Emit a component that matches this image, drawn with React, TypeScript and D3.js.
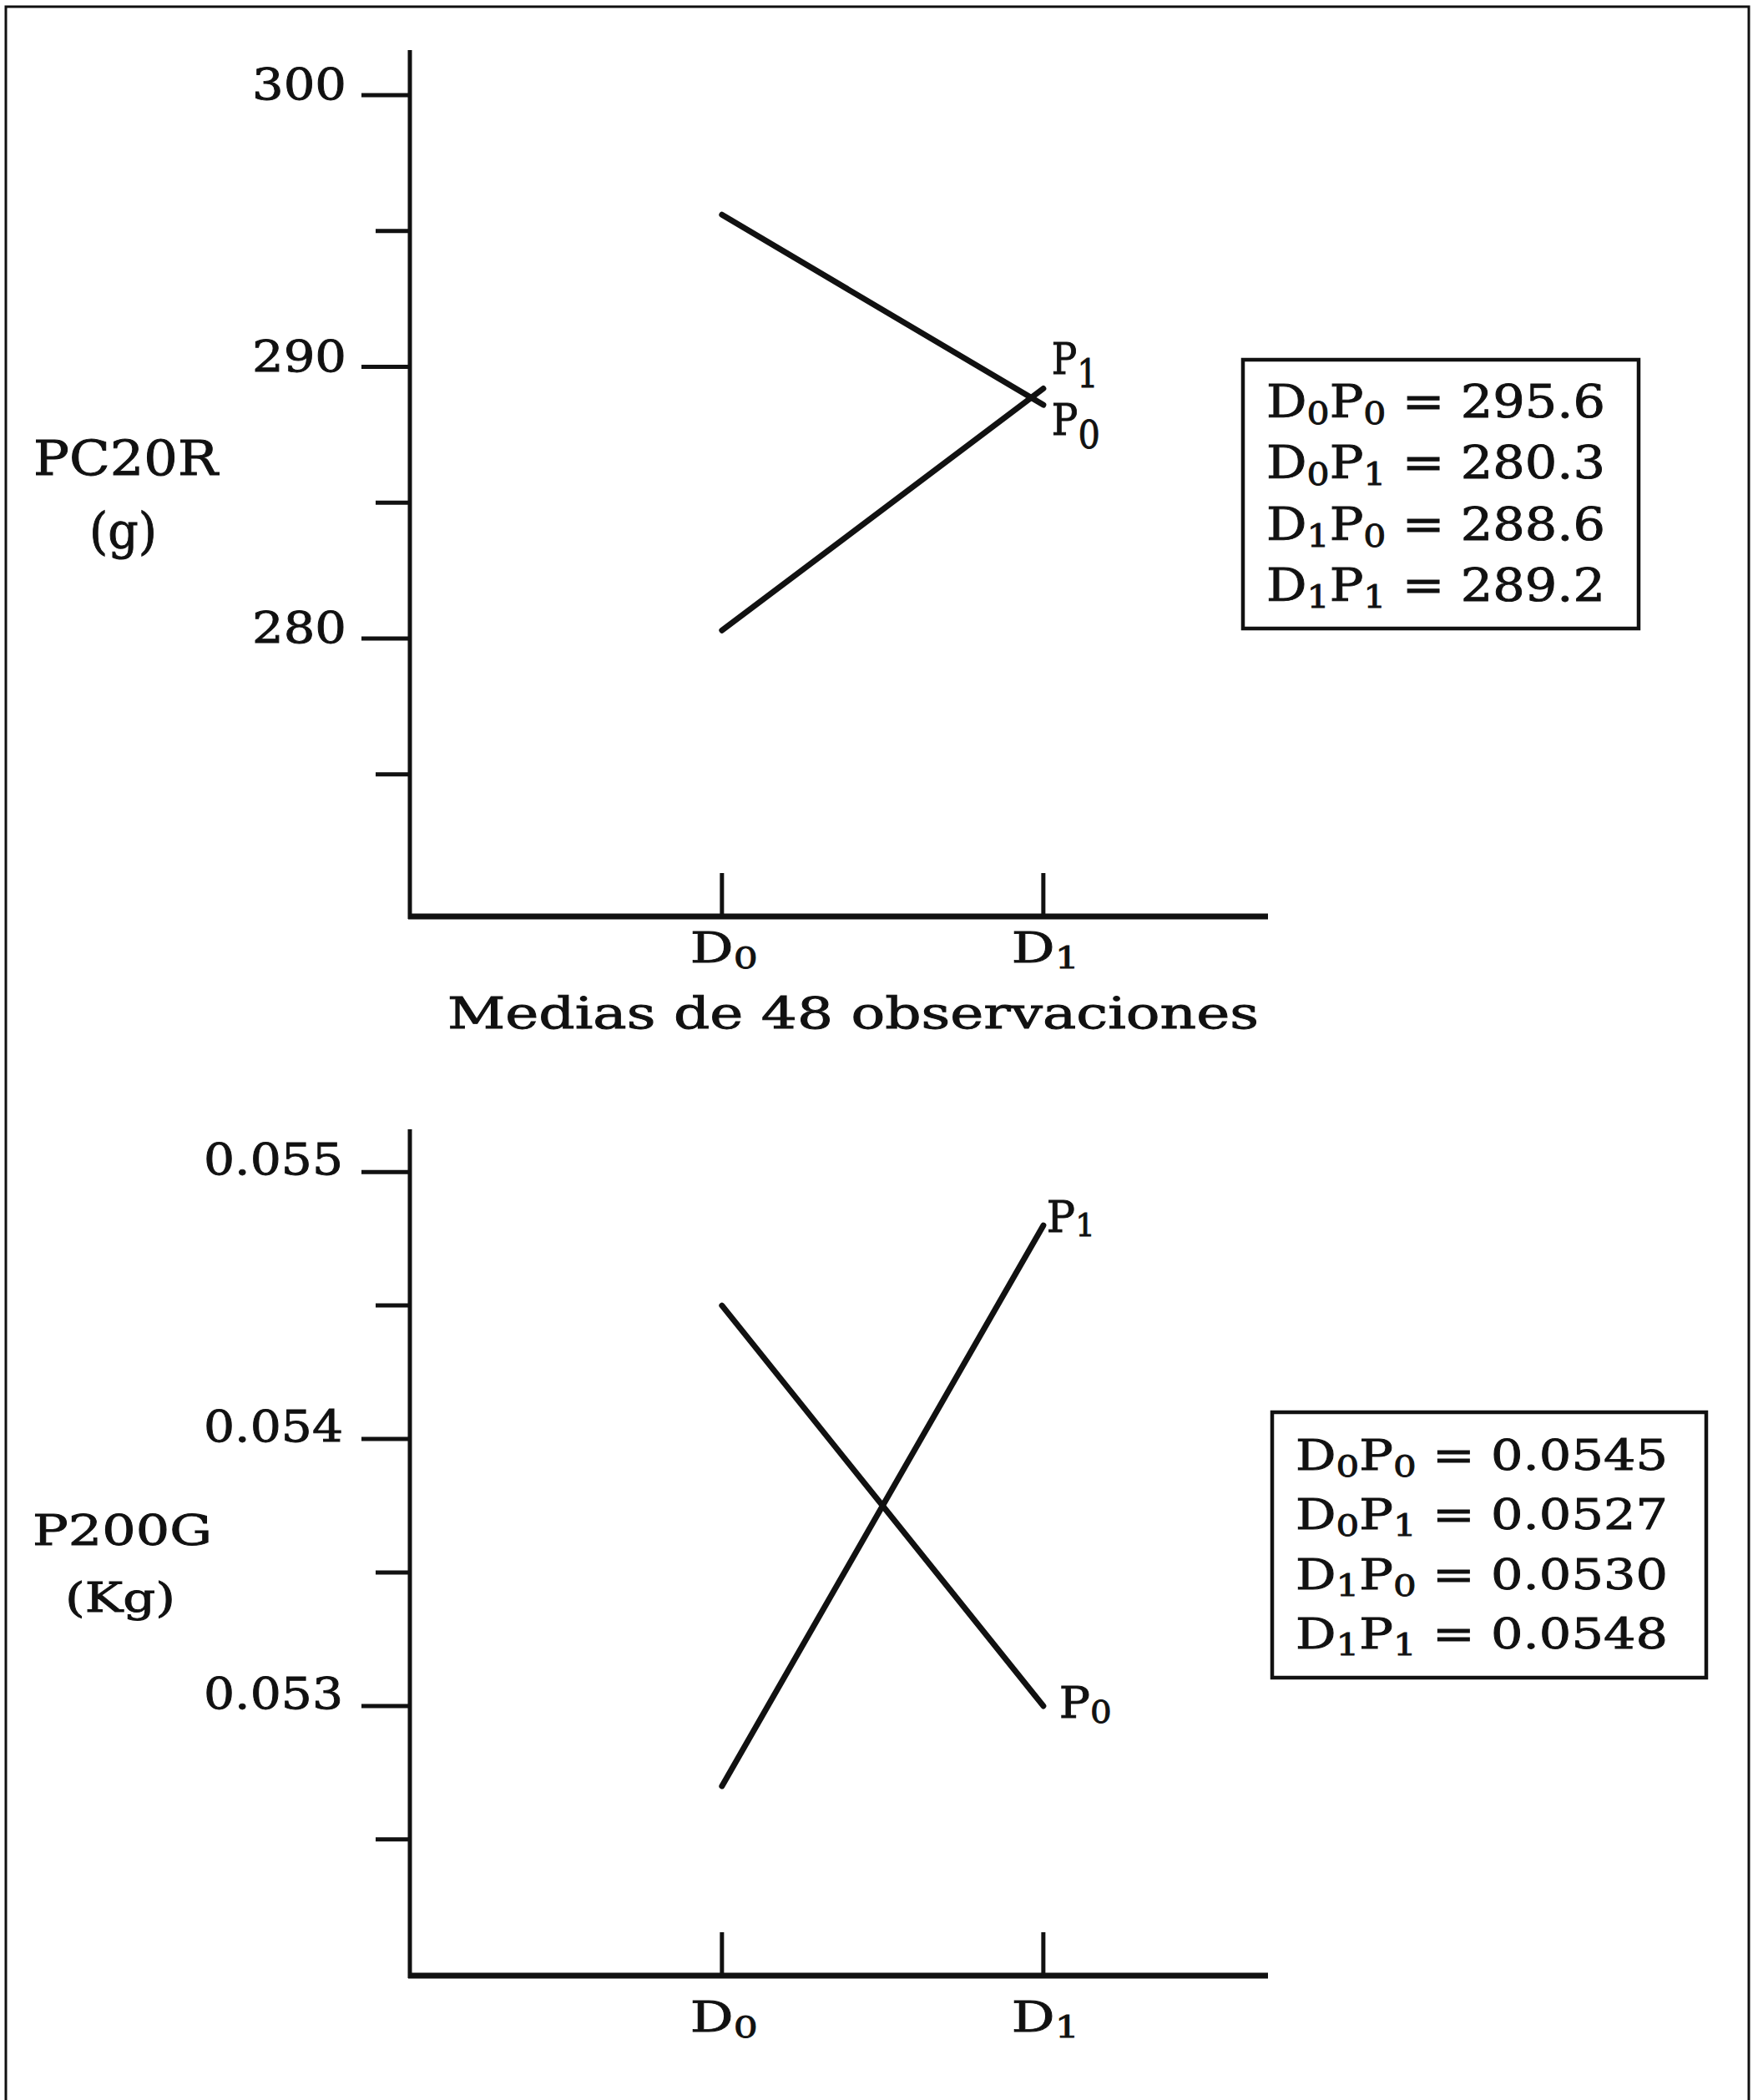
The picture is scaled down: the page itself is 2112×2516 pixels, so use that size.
import React from "react";
import * as d3 from "d3";

// dose levels on the x axis (subscripts of D)
const doses = ["0", "1"];

// PC20R (g), means of 48 observations
const pc20rP0 = [295.6, 288.6];
const pc20rP1 = [280.3, 289.2];
const pc20rMajor = [300, 290, 280];
const pc20rMinor = [295, 285, 275];

// P200G (Kg)
const p200gP0 = [0.0545, 0.053];
const p200gP1 = [0.0527, 0.0548];
const p200gMajor = [0.055, 0.054, 0.053];
const p200gMinor = [0.0545, 0.0535, 0.0525];

const xTitle = "Medias de 48 observaciones";

const W = 2112;
const H = 2516;
const FONT = "'DejaVu Serif', 'Liberation Serif', serif";
const INK = "#111";
const TEXT_STROKE = 0.9; // scan looks a bit heavier than the regular face

type Seg = { t: string; sub?: boolean };

// "D_0P_1 = 1.2" -> segments, "_" marks a one-character subscript
const parse = (s: string): Seg[] => {
  const out: Seg[] = [];
  let buf = "";
  for (let i = 0; i < s.length; i++) {
    if (s[i] === "_") {
      if (buf) out.push({ t: buf });
      buf = "";
      out.push({ t: s[i + 1], sub: true });
      i++;
    } else buf += s[i];
  }
  if (buf) out.push({ t: buf });
  return out;
};

const textStyle = {
  fontFamily: FONT,
  fill: INK,
  stroke: INK,
  strokeWidth: TEXT_STROKE,
};

const Rich = ({ text, x, y, size, subSize = size * 0.6, shift = 7, length }) => {
  let down = false;
  return (
    <text x={x} y={y} fontSize={size} style={textStyle} textLength={length} lengthAdjust="spacingAndGlyphs">
      {parse(text).map((s, i) => {
        let dy = 0;
        if (s.sub && !down) {
          dy = shift;
          down = true;
        } else if (!s.sub && down) {
          dy = -shift;
          down = false;
        }
        return (
          <tspan key={i} dy={dy} fontSize={s.sub ? subSize : size}>
            {s.t}
          </tspan>
        );
      })}
    </text>
  );
};

const x = d3.scaleLinear().domain([-0.971, 1.699]).range([491, 1519]);

const panels = [
  {
    key: "pc20r",
    y: d3.scaleLinear().domain([269.77, 301.66]).range([1098, 60]),
    major: pc20rMajor,
    minor: pc20rMinor,
    fmt: (d: number) => d3.format("d")(d),
    tick: { right: 415, width: 113, dy: 5, size: 53 },
    series: [
      { name: "P_0", values: pc20rP0, lab: { dx: 10, dy: 36, w: 58, sub: 46, shift: 16 } },
      { name: "P_1", values: pc20rP1, lab: { dx: 10, dy: -18, w: 56, sub: 46, shift: 16 } },
    ],
    titles: [
      { t: "PC20R", x: 40, y: 569, w: 221, size: 57 },
      { t: "(g)", x: 107, y: 657, w: 81, size: 60 },
    ],
    xLabelY: 1153,
    legend: { x: 1517, y0: 500, step: 73.3, w: 406, size: 54, sub: 38, box: [1489, 431, 474, 322], dec: 1 },
  },
  {
    key: "p200g",
    y: d3.scaleLinear().domain([0.05199, 0.05516]).range([2367, 1353]),
    major: p200gMajor,
    minor: p200gMinor,
    fmt: (d: number) => d3.format(".3f")(d),
    tick: { right: 411, width: 167, dy: 3, size: 53 },
    series: [
      { name: "P_0", values: p200gP0, lab: { dx: 19, dy: 14, w: 63, sub: 38, shift: 6 } },
      { name: "P_1", values: p200gP1, lab: { dx: 4, dy: 8, w: 58, sub: 38, shift: 5 } },
    ],
    titles: [
      { t: "P200G", x: 39, y: 1851, w: 215, size: 51 },
      { t: "(Kg)", x: 78, y: 1931, w: 132, size: 48 },
    ],
    xLabelY: 2434,
    legend: { x: 1552, y0: 1761, step: 71.3, w: 446, size: 50, sub: 36, box: [1524, 1692, 520, 318], dec: 4 },
  },
];

const Panel = ({ p }) => {
  const [y0, y1] = p.y.range();
  const line = d3
    .line<number>()
    .x((_, i) => x(i))
    .y((d) => p.y(d));
  const legendRows: string[] = [];
  doses.forEach((d, di) =>
    p.series.forEach((s) =>
      legendRows.push(`D_${d}${s.name} = ${s.values[di].toFixed(p.legend.dec)}`)
    )
  );
  const [bx, by, bw, bh] = p.legend.box;
  return (
    <g>
      {/* y axis */}
      <line x1={x.range()[0]} x2={x.range()[0]} y1={y1} y2={y0 + 3} stroke={INK} strokeWidth={5} />
      {p.major.map((t) => (
        <g key={"M" + t}>
          <line x1={433} x2={491} y1={p.y(t)} y2={p.y(t)} stroke={INK} strokeWidth={5} />
          <text
            x={p.tick.right - p.tick.width}
            y={p.y(t) + p.tick.dy}
            fontSize={p.tick.size}
            style={textStyle}
            textLength={p.tick.width}
            lengthAdjust="spacingAndGlyphs"
          >
            {p.fmt(t)}
          </text>
        </g>
      ))}
      {p.minor.map((t) => (
        <line key={"m" + t} x1={450} x2={491} y1={p.y(t)} y2={p.y(t)} stroke={INK} strokeWidth={5} />
      ))}
      {/* x axis */}
      <line x1={x.range()[0] - 2} x2={x.range()[1]} y1={y0} y2={y0} stroke={INK} strokeWidth={7} />
      {doses.map((d, i) => (
        <g key={d}>
          <line x1={x(i)} x2={x(i)} y1={y0} y2={y0 - 52} stroke={INK} strokeWidth={5} />
          <Rich text={`D_${d}`} x={x(i) + 2 - 40} y={p.xLabelY} size={51} subSize={36} shift={7} length={81} />
        </g>
      ))}
      {/* series */}
      {p.series.map((s) => (
        <g key={s.name}>
          <path d={line(s.values) || ""} fill="none" stroke={INK} strokeWidth={7} strokeLinecap="round" />
          <Rich
            text={s.name}
            x={x(1) + s.lab.dx}
            y={p.y(s.values[1]) + s.lab.dy}
            size={52}
            subSize={s.lab.sub}
            shift={s.lab.shift}
            length={s.lab.w}
          />
        </g>
      ))}
      {/* y titles */}
      {p.titles.map((t) => (
        <text
          key={t.t}
          x={t.x}
          y={t.y}
          fontSize={t.size}
          style={textStyle}
          textLength={t.w}
          lengthAdjust="spacingAndGlyphs"
        >
          {t.t}
        </text>
      ))}
      {/* legend box */}
      <rect x={bx} y={by} width={bw} height={bh} fill="none" stroke={INK} strokeWidth={4.5} />
      {legendRows.map((r, i) => (
        <Rich
          key={r}
          text={r}
          x={p.legend.x}
          y={p.legend.y0 + i * p.legend.step}
          size={p.legend.size}
          subSize={p.legend.sub}
          shift={8}
          length={p.legend.w}
        />
      ))}
    </g>
  );
};

export default function App() {
  return (
    <div>
      <style>{`body{margin:0;background:#fff}`}</style>
      <svg width={W} height={H} style={{ display: "block", background: "#fff" }}>
        {/* page frame, bottom edge runs off the page */}
        <rect x={7} y={8} width={2088} height={2600} fill="none" stroke={INK} strokeWidth={3} />
        {panels.map((p) => (
          <Panel key={p.key} p={p} />
        ))}
        <text
          x={536}
          y={1232}
          fontSize={52}
          style={textStyle}
          textLength={972}
          lengthAdjust="spacingAndGlyphs"
        >
          {xTitle}
        </text>
      </svg>
    </div>
  );
}
